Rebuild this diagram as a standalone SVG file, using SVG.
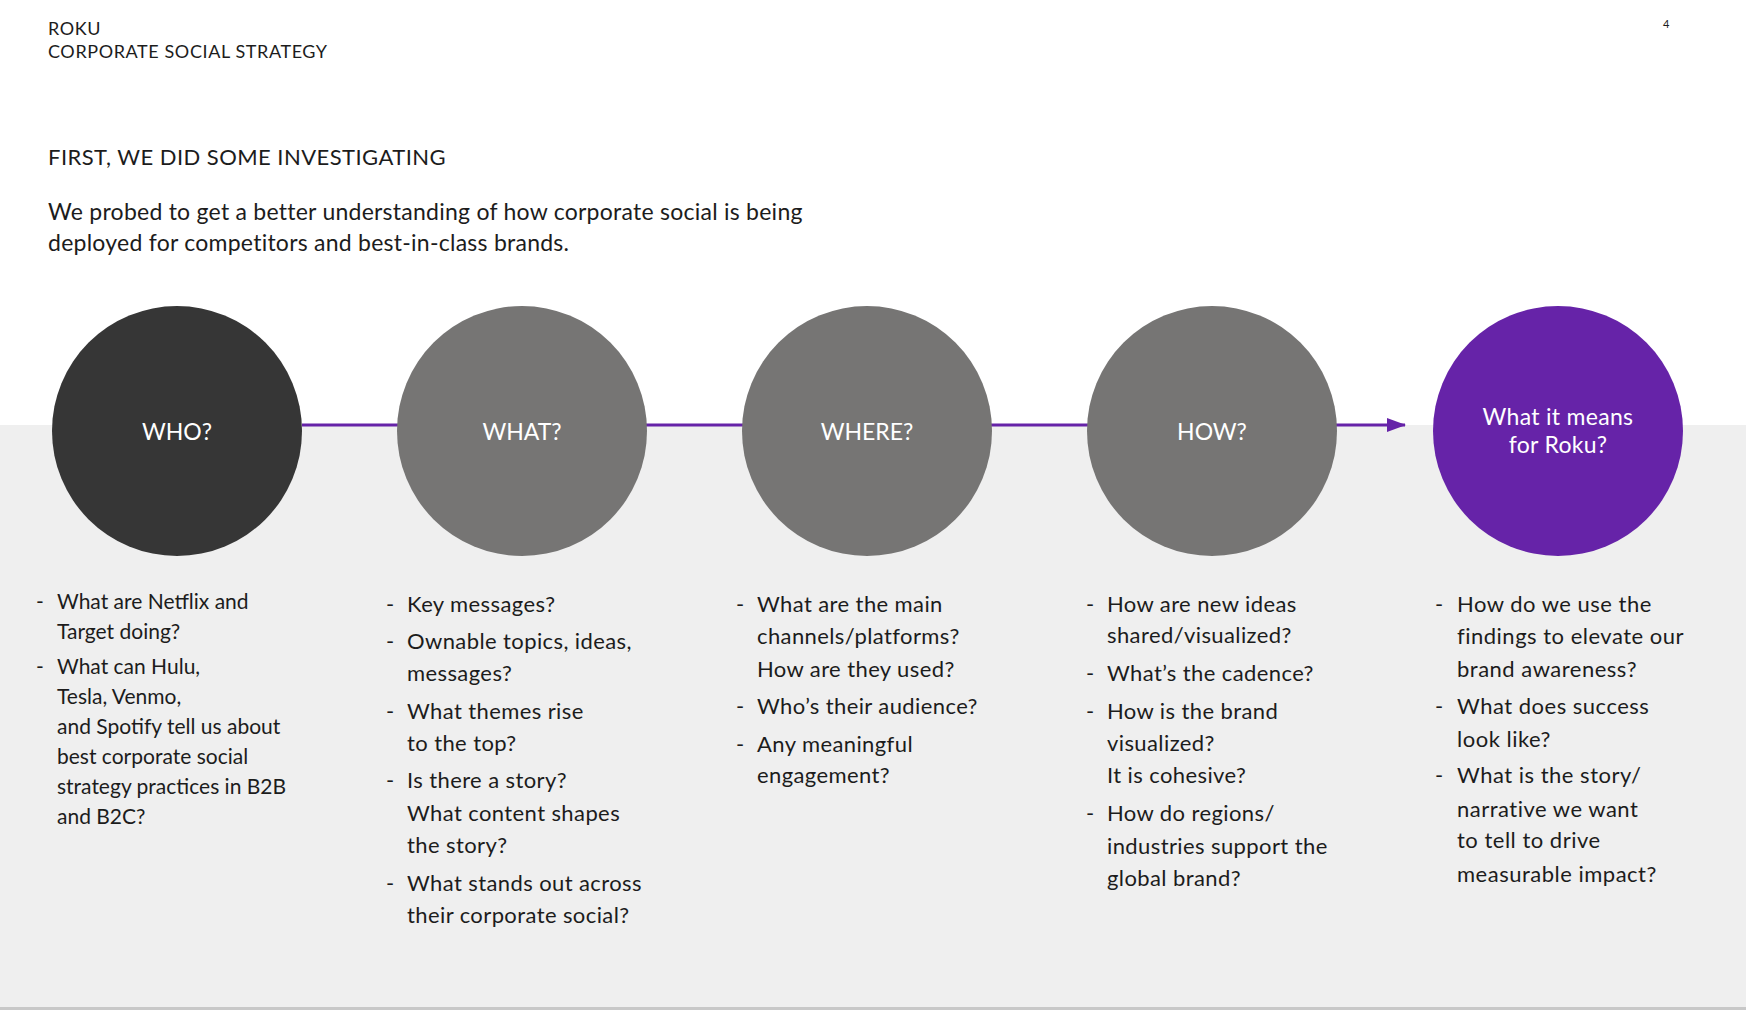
<svg xmlns="http://www.w3.org/2000/svg" width="1746" height="1010" viewBox="0 0 1746 1010">
<defs>
<style>
.t{font-family:Lato,"Noto Sans","Liberation Sans",sans-serif;fill:#1c1c1c}
.hdr{font-size:18px;letter-spacing:0.6px}
.ttl{font-size:22px;letter-spacing:0.45px}
.intro{font-size:23px;letter-spacing:0.25px}
.lbl{font-size:23px;fill:#fff;text-anchor:middle}
.lbl2{letter-spacing:0.3px}
.b1{font-size:21px}
.b{font-size:22px;letter-spacing:0.4px}
.b5{font-size:22px;letter-spacing:0.5px}
.pg{font-size:11px}
</style>
<marker id="arr" markerWidth="19" markerHeight="14" refX="18" refY="7" orient="auto" markerUnits="userSpaceOnUse">
<path d="M0,0 L19,7 L0,14 Z" fill="#6623a8"/>
</marker>
</defs>
<rect x="0" y="0" width="1746" height="1010" fill="#ffffff"/>
<rect x="0" y="425" width="1746" height="582" fill="#efefef"/>
<rect x="0" y="1007" width="1746" height="3" fill="#c8c8c8"/>

<g id="header">
<text class="t hdr" x="48" y="35">ROKU</text>
<text class="t hdr" x="48" y="58">CORPORATE SOCIAL STRATEGY</text>
<text class="t pg" x="1663" y="28">4</text>
<text class="t ttl" x="48" y="165">FIRST, WE DID SOME INVESTIGATING</text>
<text class="t intro" x="48" y="220">We probed to get a better understanding of how corporate social is being</text>
<text class="t intro" x="48" y="251">deployed for competitors and best-in-class brands.</text>
</g>

<g id="connectors">
<line x1="302" y1="425" x2="1405" y2="425" stroke="#6623a8" stroke-width="3" marker-end="url(#arr)"/>
</g>

<g id="node-who">
<circle cx="177" cy="431" r="125" fill="#363636"/>
<text class="t lbl" x="177" y="440">WHO?</text>
</g>
<g id="node-what">
<circle cx="522" cy="431" r="125" fill="#767574"/>
<text class="t lbl" x="522" y="440">WHAT?</text>
</g>
<g id="node-where">
<circle cx="867" cy="431" r="125" fill="#767574"/>
<text class="t lbl" x="867" y="440">WHERE?</text>
</g>
<g id="node-how">
<circle cx="1212" cy="431" r="125" fill="#767574"/>
<text class="t lbl" x="1212" y="440">HOW?</text>
</g>
<g id="node-roku">
<circle cx="1558" cy="431" r="125" fill="#6623a8"/>
<text class="t lbl lbl2" x="1558" y="425">What it means</text>
<text class="t lbl lbl2" x="1558" y="453">for Roku?</text>
</g>

<g id="list-who" class="t b1">
<text x="36" y="609">-</text>
<text x="57" y="609">What are Netflix and</text>
<text x="57" y="639">Target doing?</text>
<text x="36" y="674">-</text>
<text x="57" y="674">What can Hulu,</text>
<text x="57" y="704">Tesla, Venmo,</text>
<text x="57" y="734">and Spotify tell us about</text>
<text x="57" y="764">best corporate social</text>
<text x="57" y="794">strategy practices in B2B</text>
<text x="57" y="824">and B2C?</text>
</g>

<g id="list-what" class="t b">
<text x="386" y="612">-</text>
<text x="407" y="612">Key messages?</text>
<text x="386" y="649">-</text>
<text x="407" y="649">Ownable topics, ideas,</text>
<text x="407" y="681">messages?</text>
<text x="386" y="719">-</text>
<text x="407" y="719">What themes rise</text>
<text x="407" y="751">to the top?</text>
<text x="386" y="788">-</text>
<text x="407" y="788">Is there a story?</text>
<text x="407" y="821">What content shapes</text>
<text x="407" y="853">the story?</text>
<text x="386" y="891">-</text>
<text x="407" y="891">What stands out across</text>
<text x="407" y="923">their corporate social?</text>
</g>

<g id="list-where" class="t b">
<text x="736" y="612">-</text>
<text x="757" y="612">What are the main</text>
<text x="757" y="644">channels/platforms?</text>
<text x="757" y="677">How are they used?</text>
<text x="736" y="714">-</text>
<text x="757" y="714">Who’s their audience?</text>
<text x="736" y="752">-</text>
<text x="757" y="752">Any meaningful</text>
<text x="757" y="783">engagement?</text>
</g>

<g id="list-how" class="t b">
<text x="1086" y="612">-</text>
<text x="1107" y="612">How are new ideas</text>
<text x="1107" y="643">shared/visualized?</text>
<text x="1086" y="681">-</text>
<text x="1107" y="681">What’s the cadence?</text>
<text x="1086" y="719">-</text>
<text x="1107" y="719">How is the brand</text>
<text x="1107" y="751">visualized?</text>
<text x="1107" y="783">It is cohesive?</text>
<text x="1086" y="821">-</text>
<text x="1107" y="821">How do regions/</text>
<text x="1107" y="854">industries support the</text>
<text x="1107" y="886">global brand?</text>
</g>

<g id="list-roku" class="t b5">
<text x="1435" y="612">-</text>
<text x="1457" y="612">How do we use the</text>
<text x="1457" y="644">findings to elevate our</text>
<text x="1457" y="677">brand awareness?</text>
<text x="1435" y="714">-</text>
<text x="1457" y="714">What does success</text>
<text x="1457" y="747">look like?</text>
<text x="1435" y="783">-</text>
<text x="1457" y="783">What is the story/</text>
<text x="1457" y="817">narrative we want</text>
<text x="1457" y="848">to tell to drive</text>
<text x="1457" y="882">measurable impact?</text>
</g>
</svg>
